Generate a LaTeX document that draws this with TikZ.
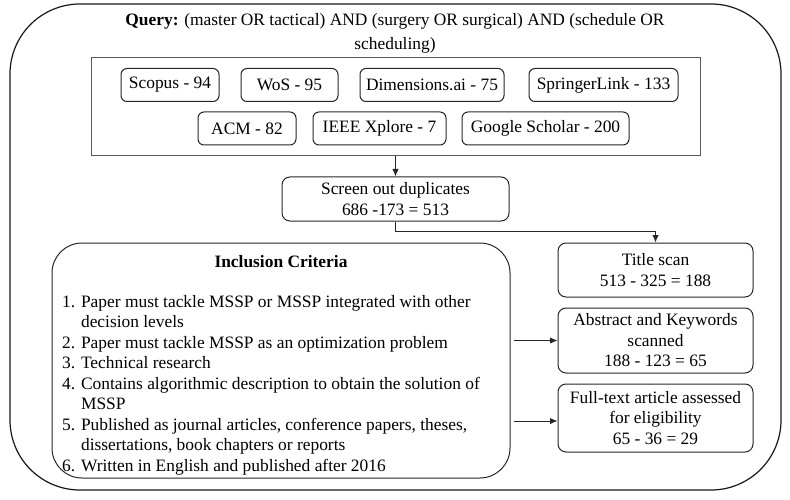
\documentclass[tikz,border=0pt]{standalone}
\usepackage{fontspec}
\IfFontExistsTF{LiberationSerif-Regular.ttf}
  {\setmainfont{LiberationSerif-Regular.ttf}[BoldFont=LiberationSerif-Bold.ttf,ItalicFont=LiberationSerif-Italic.ttf]}
  {\setmainfont{Liberation Serif}[UprightFont=* Regular,BoldFont=* Bold]}
\usetikzlibrary{arrows.meta}
\begin{document}
\begin{tikzpicture}[x=1pt,y=-1pt,
  every node/.style={font=\rmfamily\fontsize{17.4}{20.5}\selectfont, inner sep=0pt},
  dbbox/.style={draw=black!85, line width=1pt, rounded corners=6pt, minimum height=33pt},
  stepbox/.style={draw=black!85, line width=1pt, rounded corners=8pt, align=center, minimum width=195pt},
  arr/.style={draw=black!85, line width=1pt, -{Latex[length=7.5pt,width=6.5pt]}}
]
\useasboundingbox (0,0) rectangle (790,500);
% outer frame
\draw[line width=1.2pt, black!90, rounded corners=70pt] (10,4) rectangle (781,490);
% query
\node[align=center, font=\rmfamily\fontsize{17.4}{24.5}\selectfont] (query) at (395,33.5)
  {\textbf{Query:} (master OR tactical) AND (surgery OR surgical) AND (schedule OR\\scheduling)};
% database container
\node[draw=black!65, line width=1pt, minimum width=609pt, minimum height=98pt] (dbs) at (395.5,107) {};
\node[dbbox, minimum width=98pt]  (scopus) at (170,85)    {Scopus - 94};
\node[dbbox, minimum width=97pt]  (wos)    at (289.5,85)  {WoS - 95};
\node[dbbox, minimum width=144pt] (dim)    at (432,85)    {Dimensions.ai - 75};
\node[dbbox, minimum width=149pt] (spr)    at (603.5,85)  {SpringerLink - 133};
\node[dbbox, minimum width=98pt]  (acm)    at (247,128.5) {ACM - 82};
\node[dbbox, minimum width=133pt] (ieee)   at (379.5,128.5) {IEEE Xplore - 7};
\node[dbbox, minimum width=167pt] (google) at (545.5,128.5) {Google Scholar - 200};
% screen
\node[stepbox, minimum width=227pt, minimum height=44pt] (screen) at (395.5,199)
  {Screen out duplicates\\686 -173 = 513};
\draw[arr] (dbs.south) -- (screen.north);
% right column
\node[stepbox, minimum height=54pt] (title) at (655.5,270) {Title scan\\513 - 325 = 188};
\node[stepbox, minimum height=65pt] (abs) at (655.5,340.5) {Abstract and Keywords\\scanned\\188 - 123 = 65};
\node[stepbox, minimum height=68pt] (full) at (655.5,418) {Full-text article assessed\\for eligibility\\65 - 36 = 29};
\draw[arr] (screen.south) -- ++(0,10) -| (title.north);
% inclusion criteria
\node[draw=black!85, line width=1pt, rounded corners=30pt, minimum width=458pt, minimum height=235pt] (incl) at (281,360.5) {};
\node[font=\rmfamily\fontsize{17.4}{20.5}\selectfont\bfseries] (inchead) at (281,262) {Inclusion Criteria};
\node[anchor=north west, align=left] (items) at (62,295) {%
1. Paper must tackle MSSP or MSSP integrated with other\\
\phantom{1. }decision levels\\
2. Paper must tackle MSSP as an optimization problem\\
3. Technical research\\
4. Contains algorithmic description to obtain the solution of\\
\phantom{4. }MSSP\\
5. Published as journal articles, conference papers, theses,\\
\phantom{5. }dissertations, book chapters or reports\\
6. Written in English and published after 2016};
\draw[arr] ([xshift=3pt]incl.east |- abs.west) -- (abs.west);
\draw[arr] ([xshift=3pt,yshift=-3pt]incl.east |- full.west) -- ([yshift=-3pt]full.west);
\end{tikzpicture}
\end{document}
